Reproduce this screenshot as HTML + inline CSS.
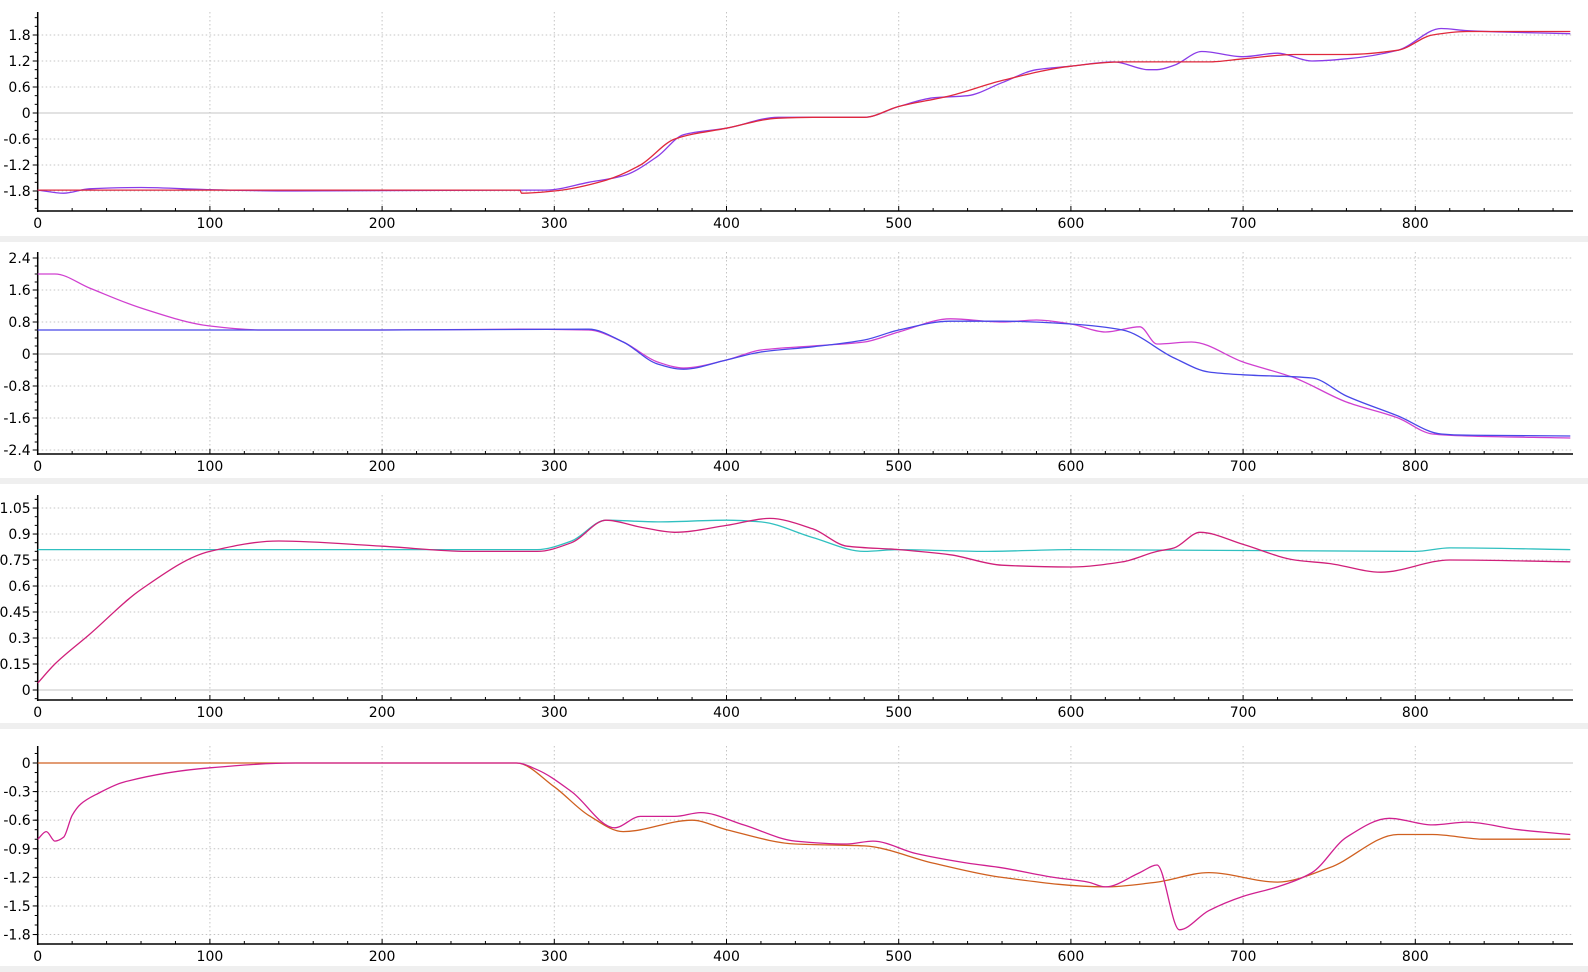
<!DOCTYPE html>
<html><head><meta charset="utf-8"><style>
html,body{margin:0;padding:0;background:#fff;}
svg{display:block;font-family:"DejaVu Sans","Liberation Sans",sans-serif;}
</style></head><body>
<svg id="chart" width="1588" height="972" viewBox="0 0 1588 972" xmlns="http://www.w3.org/2000/svg"></svg>
<script>
// ---- data ----
const p1Ticks = [-1.8,-1.2,-0.6,0,0.6,1.2,1.8];
const p1RedX = [0,270,280,281,300,330,350,370,400,430,450,480,500,530,560,600,630,650,680,700,730,760,790,810,830,890];
const p1RedY = [-1.78,-1.78,-1.78,-1.85,-1.8,-1.55,-1.2,-0.6,-0.35,-0.12,-0.1,-0.1,0.15,0.4,0.75,1.08,1.18,1.18,1.18,1.25,1.35,1.35,1.45,1.8,1.88,1.88];
const p1PurX = [0,15,30,60,100,150,280,295,320,340,360,375,400,430,450,480,500,520,540,560,580,600,625,645,650,660,676,700,720,740,760,790,815,830,850,890];
const p1PurY = [-1.78,-1.85,-1.75,-1.72,-1.77,-1.8,-1.78,-1.78,-1.6,-1.45,-1.0,-0.5,-0.35,-0.1,-0.1,-0.1,0.15,0.35,0.4,0.7,1.0,1.08,1.18,1.0,1.0,1.1,1.42,1.3,1.38,1.2,1.25,1.45,1.95,1.9,1.87,1.83];

const p2Ticks = [-2.4,-1.6,-0.8,0,0.8,1.6,2.4];
const p2MagX = [0,10,30,60,100,130,200,280,320,340,360,375,400,420,450,480,500,530,560,580,600,620,640,650,670,700,730,760,790,810,830,890];
const p2MagY = [2.0,2.0,1.65,1.15,0.7,0.6,0.6,0.62,0.6,0.3,-0.2,-0.35,-0.15,0.1,0.2,0.3,0.55,0.88,0.8,0.85,0.75,0.55,0.68,0.25,0.3,-0.2,-0.6,-1.2,-1.6,-2.0,-2.05,-2.1];
const p2BluX = [0,100,200,320,340,360,375,400,420,450,480,500,530,560,600,630,660,680,700,740,760,790,815,830,890];
const p2BluY = [0.6,0.6,0.6,0.62,0.3,-0.25,-0.38,-0.15,0.05,0.18,0.35,0.6,0.82,0.82,0.75,0.6,-0.1,-0.45,-0.52,-0.6,-1.05,-1.55,-2.0,-2.03,-2.05];

const p3Ticks = [0,0.15,0.3,0.45,0.6,0.75,0.9,1.05];
const p3MagX = [0,10,30,60,100,140,200,250,290,310,330,350,370,400,425,450,470,500,530,560,600,630,650,660,675,700,730,750,780,820,890];
const p3MagY = [0.04,0.15,0.32,0.58,0.8,0.86,0.83,0.8,0.8,0.85,0.98,0.94,0.91,0.95,0.99,0.93,0.83,0.81,0.78,0.72,0.71,0.74,0.8,0.82,0.91,0.84,0.75,0.73,0.68,0.75,0.74];
const p3CyaX = [0,150,290,310,330,360,400,420,450,480,500,550,600,800,820,890];
const p3CyaY = [0.81,0.81,0.81,0.86,0.98,0.97,0.98,0.97,0.88,0.8,0.81,0.8,0.81,0.8,0.82,0.81];

const p4Ticks = [-1.8,-1.5,-1.2,-0.9,-0.6,-0.3,0];
const p4MagX = [0,5,10,15,20,25,35,50,100,150,278,290,310,335,350,370,385,410,440,470,485,510,540,560,590,610,620,640,650,663,680,700,720,740,760,785,810,830,860,890];
const p4MagY = [-0.8,-0.72,-0.82,-0.78,-0.55,-0.43,-0.32,-0.2,-0.05,0,0,-0.07,-0.3,-0.68,-0.56,-0.56,-0.52,-0.65,-0.82,-0.85,-0.82,-0.95,-1.05,-1.1,-1.2,-1.25,-1.3,-1.15,-1.07,-1.75,-1.55,-1.4,-1.3,-1.15,-0.78,-0.58,-0.65,-0.62,-0.7,-0.75];
const p4OraX = [0,150,278,300,320,340,380,400,440,480,520,560,620,650,680,720,750,790,810,840,890];
const p4OraY = [0,0,0,-0.25,-0.55,-0.72,-0.6,-0.7,-0.85,-0.87,-1.05,-1.2,-1.3,-1.25,-1.15,-1.25,-1.1,-0.75,-0.75,-0.8,-0.8];

const xTicks = [0,100,200,300,400,500,600,700,800];

// ---- layout ----
const NS = "http://www.w3.org/2000/svg";
const svg = document.getElementById('chart');
const X0 = 37.7, XS = 1.722, XEND = 1573;
const xs = v => X0 + v * XS;
function mk(tag, attrs, parent){
  const e = document.createElementNS(NS, tag);
  for (const k in attrs) e.setAttribute(k, attrs[k]);
  (parent||svg).appendChild(e);
  return e;
}
// monotone cubic (Fritsch-Carlson) in x
function smooth(pts){
  const n = pts.length;
  const dx = [], sl = [];
  for (let i = 0; i < n-1; i++){ dx[i] = pts[i+1][0]-pts[i][0]; sl[i] = (pts[i+1][1]-pts[i][1])/dx[i]; }
  const m = [];
  m[0] = sl[0]; m[n-1] = sl[n-2];
  for (let i = 1; i < n-1; i++){
    if (sl[i-1]*sl[i] <= 0) m[i] = 0;
    else {
      const w1 = 2*dx[i]+dx[i-1], w2 = dx[i]+2*dx[i-1];
      m[i] = (w1+w2)/(w1/sl[i-1]+w2/sl[i]);
    }
  }
  let d = 'M' + pts[0][0].toFixed(1) + ',' + pts[0][1].toFixed(1);
  for (let i = 0; i < n-1; i++){
    const h = dx[i]/3;
    d += ' C' + (pts[i][0]+h).toFixed(1) + ',' + (pts[i][1]+m[i]*h).toFixed(1) + ' ' +
         (pts[i+1][0]-h).toFixed(1) + ',' + (pts[i+1][1]-m[i+1]*h).toFixed(1) + ' ' +
         pts[i+1][0].toFixed(1) + ',' + pts[i+1][1].toFixed(1);
  }
  return d;
}
const panels = [
  {name:'panel-1', top:12, zero:113, scale:43.33, axis:211, ticks:p1Ticks, minor:0.2, band:236,
   series:[{n:'series-purple',x:p1PurX,y:p1PurY,c:'#8a3ce8'},{n:'series-red',x:p1RedX,y:p1RedY,c:'#e0283c'}]},
  {name:'panel-2', top:252, zero:354, scale:40, axis:454, ticks:p2Ticks, minor:0.2, band:478,
   series:[{n:'series-magenta',x:p2MagX,y:p2MagY,c:'#d040d0'},{n:'series-blue',x:p2BluX,y:p2BluY,c:'#4848e8'}]},
  {name:'panel-3', top:495, zero:690, scale:173.3, axis:700, ticks:p3Ticks, minor:0.05, band:723,
   series:[{n:'series-cyan',x:p3CyaX,y:p3CyaY,c:'#30c0c0'},{n:'series-magenta',x:p3MagX,y:p3MagY,c:'#d0207a'}]},
  {name:'panel-4', top:746, zero:763, scale:95.3, axis:944, ticks:p4Ticks, minor:0.1, band:966,
   series:[{n:'series-orange',x:p4OraX,y:p4OraY,c:'#d06020'},{n:'series-magenta',x:p4MagX,y:p4MagY,c:'#d02090'}]}
];
panels.forEach(P => {
  const g = mk('g', {});
  
  
  const ys = v => P.zero - v * P.scale;
  const band = mk('rect', {x:0, y:P.band, width:1588, height:6, fill:'#efefef'}, g);
  
  
  xTicks.forEach(t => {
    if (t === 0) return;
    const l = mk('line', {x1:xs(t), x2:xs(t), y1:P.top, y2:P.axis, stroke:'#c4c4c4', 'stroke-dasharray':'1.5 2.5'}, g);
    
    
  });
  P.ticks.forEach(t => {
    const y = ys(t);
    const l = mk('line', {x1:X0, x2:XEND, y1:y, y2:y, stroke:'#c4c4c4'}, g);
    if (t !== 0) l.setAttribute('stroke-dasharray', '1.5 2.5');
    
    
    mk('line', {x1:X0-5, x2:X0, y1:y, y2:y, stroke:'#000'}, g);
    const tx = mk('text', {x:X0-7, y:y+5, 'text-anchor':'end', 'font-size':'14', fill:'#000'}, g);
    tx.textContent = String(t);
    
    
  });
  const lo = Math.min(...P.ticks), hi = Math.max(...P.ticks);
  for (let v = lo - 2*P.minor; v <= hi + 2*P.minor + 1e-9; v += P.minor){
    const y = ys(v);
    if (y < P.top || y > P.axis) continue;
    mk('line', {x1:X0-3, x2:X0, y1:y, y2:y, stroke:'#000'}, g);
  }
  for (let v = 20; xs(v) < XEND; v += 20){
    mk('line', {x1:xs(v), x2:xs(v), y1:P.axis, y2:P.axis-(v%100===0?5:3), stroke:'#000'}, g);
  }
  const ya = mk('line', {x1:X0, x2:X0, y1:P.top, y2:P.axis+1, stroke:'#000', 'stroke-width':1.5}, g);
  
  
  const xa = mk('line', {x1:X0, x2:XEND, y1:P.axis, y2:P.axis, stroke:'#000', 'stroke-width':1.5}, g);
  
  
  xTicks.forEach(t => {
    const tx = mk('text', {x:xs(t), y:P.axis+17, 'text-anchor':'middle', 'font-size':'14', fill:'#000'}, g);
    tx.textContent = String(t);
    
    
  });
  P.series.forEach(s => {
    const pts = s.x.map((v, i) => [xs(v), ys(s.y[i])]);
    const p = mk('path', {d:smooth(pts), fill:'none', stroke:s.c, 'stroke-width':1.3}, g);
    
    
  });
});
</script>
</body></html>
